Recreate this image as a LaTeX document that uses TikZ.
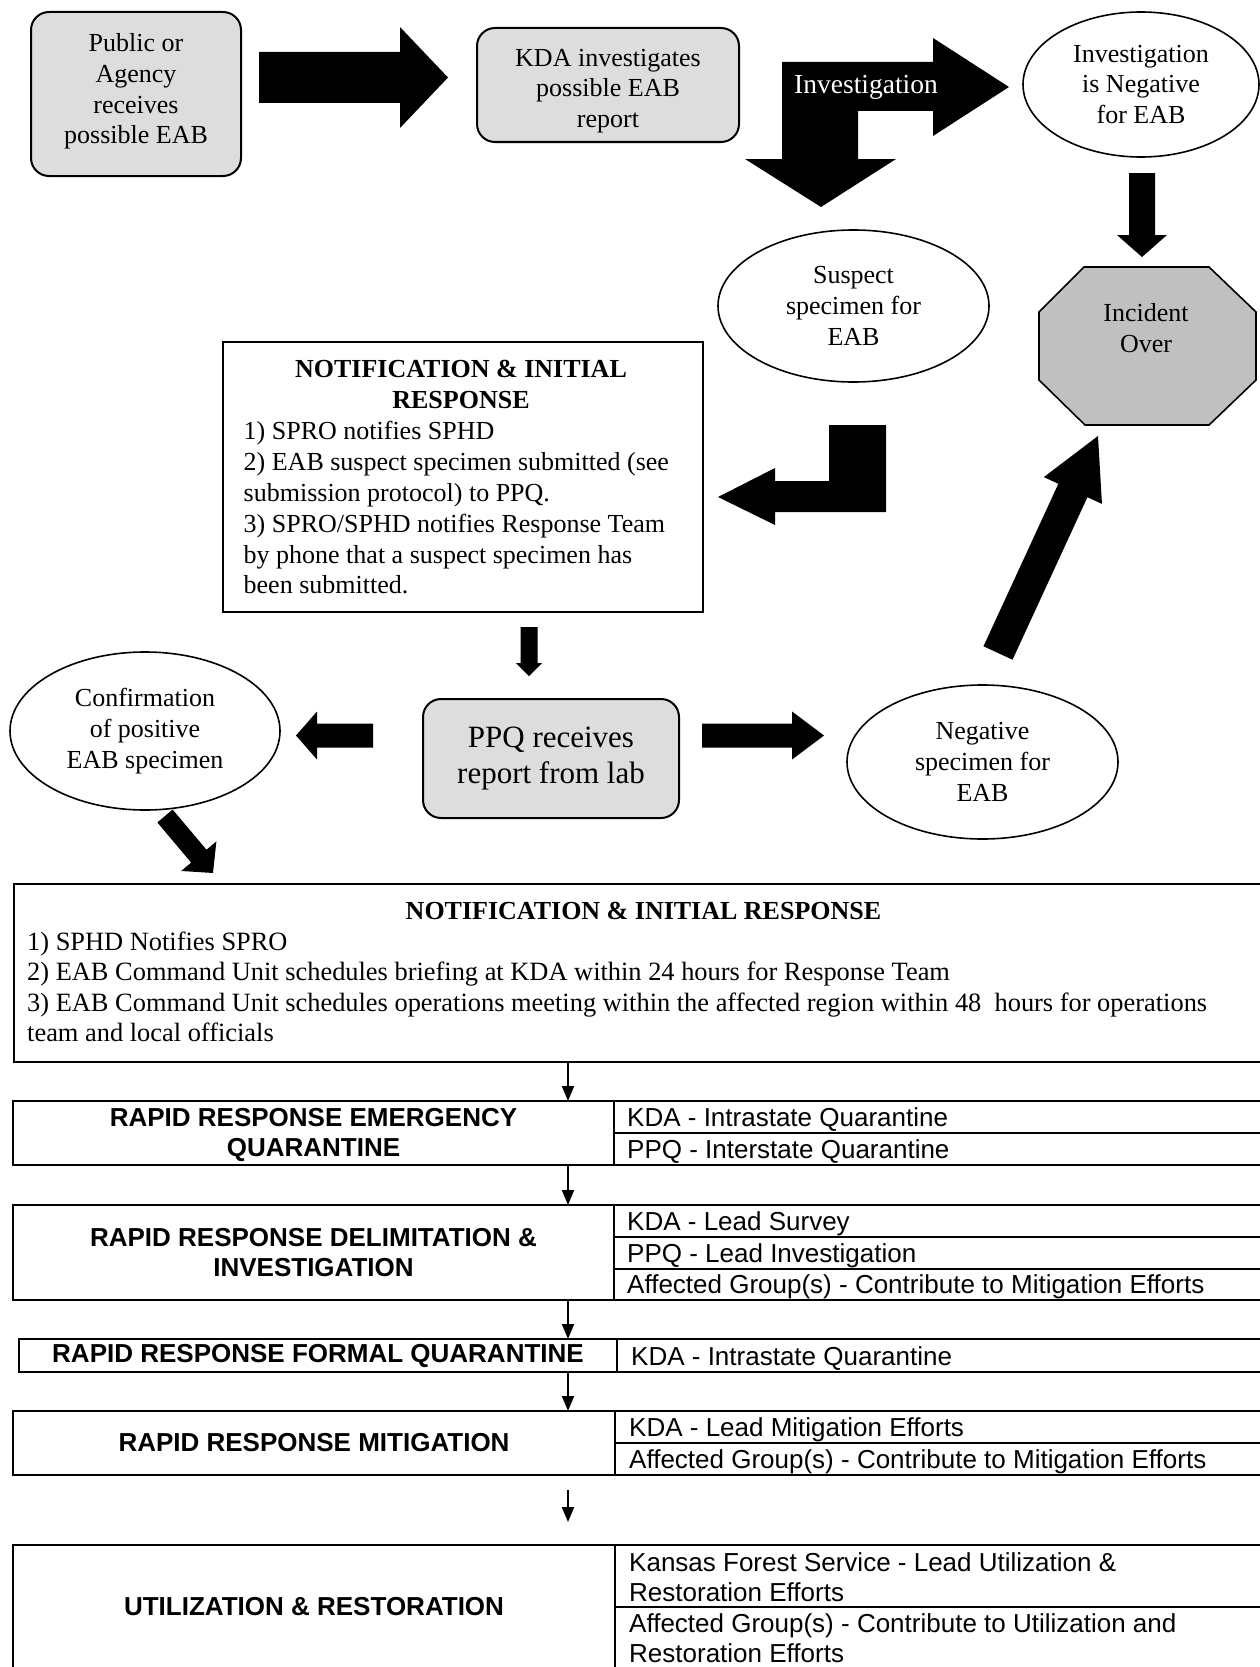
\documentclass[tikz,border=0pt]{standalone}
\usepackage{fontspec}
\setmainfont{Liberation Serif}
\newfontfamily\arialf{Liberation Sans}
\usetikzlibrary{shapes.geometric,arrows.meta,calc}
\definecolor{boxgray}{HTML}{DDDDDD}
\definecolor{octgray}{HTML}{C0C0C0}
% block arrow: from, to, body half width, head half width, head length
\newcommand\blockarrow[5]{%
  \fill let \p1=(#1), \p2=(#2), \n1={atan2(\y2-\y1,\x2-\x1)}, \n2={veclen(\x2-\x1,\y2-\y1)} in
   [shift={(\p1)}, rotate=\n1]
   (0,#3) -- ({\n2-#5},#3) -- ({\n2-#5},#4) -- (\n2,0) -- ({\n2-#5},-#4) -- ({\n2-#5},-#3) -- (0,-#3) -- cycle;}
\begin{document}
\begin{tikzpicture}[x=1pt,y=-1pt,
  font=\fontsize{26}{30.8}\selectfont,
  rbox/.style={draw, line width=2pt, fill=boxgray, rounded corners=18pt, inner sep=0pt, align=center},
  ell/.style={ellipse, draw, line width=1.6pt, fill=white, inner sep=0pt, align=center},
  ctext/.style={align=center, inner sep=0pt},
  ln/.style={anchor=mid west, inner sep=0pt, yshift=-7pt},
  ln2/.style={anchor=mid west, inner sep=0pt, yshift=-7pt, font=\fontsize{26.4}{30.8}\selectfont},
  hd/.style={anchor=mid, inner sep=0pt, yshift=-7pt, font=\bfseries\fontsize{26}{30.8}\selectfont},
  lt/.style={font=\arialf\bfseries\fontsize{26}{30.5}\selectfont, align=center, inner sep=0pt},
  rt/.style={font=\arialf\fontsize{26}{30.5}\selectfont, anchor=mid west, inner sep=0pt, yshift=-7pt},
  tbl/.style={draw, line width=2.5pt},
  tarrow/.style={line width=2pt, -{Triangle[length=15pt,width=12pt]}}]
\useasboundingbox (0,0) rectangle (1260,1667);
\fill[white] (0,0) rectangle (1260,1667);

% ---------- top row ----------
\node[rbox, minimum width=210pt, minimum height=164pt] (pub) at (136,94) {};
\node[ctext] (pubtext) at (136,91.5) {Public or\\Agency\\receives\\possible EAB};
\node[rbox, minimum width=262pt, minimum height=114pt] (kda) at (608,85) {};
\node[ctext] (kdatext) at (608,91) {KDA investigates\\possible EAB\\report};
\node[ell, minimum width=236pt, minimum height=145pt] (inv) at (1141,84.5)
  {Investigation\\is Negative\\for EAB};

\coordinate (a1s) at (259,77.5);
\coordinate (a1e) at (448,77.5);
\blockarrow{a1s}{a1e}{25.5}{50.5}{48}

% bent arrow (Investigation)
\fill (782,62) -- (933,62) -- (933,38) -- (1009,87) -- (933,136) -- (933,111)
  -- (858,111) -- (858,159) -- (896,159) -- (821,207) -- (745,159) -- (782,159) -- cycle;
\node[text=white, font=\fontsize{27.5}{32}\selectfont, inner sep=0pt] (invlabel) at (866,87) {Investigation};

% Investigation negative -> incident over
\coordinate (a2s) at (1142,173);
\coordinate (a2e) at (1142,257);
\blockarrow{a2s}{a2e}{13}{25}{22}

% ---------- second row ----------
\node[ell, minimum width=271pt, minimum height=152pt] (susp) at (853.5,306)
  {Suspect\\specimen for\\EAB};

\filldraw[fill=octgray, line width=1.6pt] (1084,267) -- (1209,267) -- (1256,312) -- (1256,380)
  -- (1209,425) -- (1085,425) -- (1039,380) -- (1039,312) -- cycle;
\node[ctext] (incident) at (1146,328.5) {Incident\\Over};

% bent arrow from suspect to notification
\fill (829,425) -- (886,425) -- (886,512) -- (775,512) -- (775,525) -- (718,497)
  -- (775,468) -- (775,481) -- (829,481) -- cycle;

% notification box 1
\node[draw, line width=1.6pt, minimum width=480pt, minimum height=270pt, inner sep=0pt] (notif1) at (463,477) {};
\node[hd] (n1h1) at (461,368) {NOTIFICATION \& INITIAL};
\node[hd] (n1h2) at (461,399) {RESPONSE};
\node[ln] (n1l1) at (243.5,430.5) {1) SPRO notifies SPHD};
\node[ln] (n1l2) at (243.5,461.3) {2) EAB suspect specimen submitted (see};
\node[ln] (n1l3) at (243.5,492) {submission protocol) to PPQ.};
\node[ln] (n1l4) at (243.5,522.9) {3) SPRO/SPHD notifies Response Team};
\node[ln] (n1l5) at (243.5,553.7) {by phone that a suspect specimen has};
\node[ln] (n1l6) at (243.5,584.5) {been submitted.};

\coordinate (a3s) at (529,627);
\coordinate (a3e) at (529,676);
\blockarrow{a3s}{a3e}{8.5}{13}{13}

% ---------- third row ----------
\node[rbox, minimum width=256pt, minimum height=119pt, font=\fontsize{31}{36}\selectfont] (ppq) at (551,758.5)
  {PPQ receives\\report from lab};
\node[ell, minimum width=270pt, minimum height=158pt] (conf) at (145,731)
  {Confirmation\\of positive\\EAB specimen};
\node[ell, minimum width=271pt, minimum height=154pt] (neg) at (982.5,762)
  {Negative\\specimen for\\EAB};

\coordinate (a4s) at (373,735.5);
\coordinate (a4e) at (296,735.5);
\blockarrow{a4s}{a4e}{12}{24}{21}
\coordinate (a5s) at (702,735.5);
\coordinate (a5e) at (824,735.5);
\blockarrow{a5s}{a5e}{12}{24}{32}
\coordinate (a6s) at (998,653);
\coordinate (a6e) at (1098,436);
\blockarrow{a6s}{a6e}{16}{32}{60}
\coordinate (a7s) at (165,816);
\coordinate (a7e) at (213,873);
\blockarrow{a7s}{a7e}{10}{23}{22}

% ---------- notification box 2 ----------
\node[draw, line width=2pt, minimum width=1261pt, minimum height=178pt, inner sep=0pt, anchor=north west] (notif2) at (13,883) {};
\node[hd] (n2h) at (643.5,910) {NOTIFICATION \& INITIAL RESPONSE};
\node[ln2] (n2l1) at (27,941.5) {1) SPHD Notifies SPRO};
\node[ln2] (n2l2) at (27,971.5) {2) EAB Command Unit schedules briefing at KDA within 24 hours for Response Team};
\node[ln2] (n2l3) at (27,1002) {3) EAB Command Unit schedules operations meeting within the affected region within 48\ \ hours for operations};
\node[ln2] (n2l4) at (27,1032.5) {team and local officials};

% ---------- tables ----------
% table 1
\draw[tbl] (13,1101) rectangle (1274,1165);
\draw[line width=2pt] (614,1101) -- (614,1165) (614,1133) -- (1274,1133);
\node[lt] (t1l) at (313.5,1135) {RAPID RESPONSE EMERGENCY\\QUARANTINE};
\node[rt] (t1r1) at (627,1117) {KDA - Intrastate Quarantine};
\node[rt] (t1r2) at (627,1149) {PPQ - Interstate Quarantine};
% table 2
\draw[tbl] (13,1205) rectangle (1274,1300);
\draw[line width=2pt] (614,1205) -- (614,1300) (614,1237) -- (1274,1237) (614,1269) -- (1274,1269);
\node[lt] (t2l) at (313.5,1252.5) {RAPID RESPONSE DELIMITATION \&\\INVESTIGATION};
\node[rt] (t2r1) at (627,1221) {KDA - Lead Survey};
\node[rt] (t2r2) at (627,1253) {PPQ - Lead Investigation};
\node[rt] (t2r3) at (627,1284.5) {Affected Group(s) - Contribute to Mitigation Efforts};
% table 3
\draw[tbl, line width=2pt] (19,1339) rectangle (1274,1372);
\draw[line width=2pt] (617,1339) -- (617,1372);
\node[lt] (t3l) at (318,1356) {RAPID RESPONSE FORMAL QUARANTINE};
\node[rt] (t3r1) at (631,1356) {KDA - Intrastate Quarantine};
% table 4
\draw[tbl] (13,1411) rectangle (1274,1475);
\draw[line width=2pt] (615,1411) -- (615,1475) (615,1443) -- (1274,1443);
\node[lt] (t4l) at (314,1443) {RAPID RESPONSE MITIGATION};
\node[rt] (t4r1) at (629,1427) {KDA - Lead Mitigation Efforts};
\node[rt] (t4r2) at (629,1459) {Affected Group(s) - Contribute to Mitigation Efforts};
% table 5
\draw[tbl] (13,1545) rectangle (1274,1675);
\draw[line width=2pt] (615,1545) -- (615,1675) (615,1607) -- (1274,1607);
\node[lt] (t5l) at (314,1607) {UTILIZATION \& RESTORATION};
\node[rt] (t5r1) at (629,1562) {Kansas Forest Service - Lead Utilization \&};
\node[rt] (t5r2) at (629,1592) {Restoration Efforts};
\node[rt] (t5r3) at (629,1623) {Affected Group(s) - Contribute to Utilization and};
\node[rt] (t5r4) at (629,1653) {Restoration Efforts};

% thin arrows between tables
\coordinate (b0s) at (568,1061); \coordinate (b0e) at (568,1101);
\coordinate (b1s) at (568,1166); \coordinate (b1e) at (568,1205);
\coordinate (b2s) at (568,1301); \coordinate (b2e) at (568,1339);
\coordinate (b3s) at (568,1373); \coordinate (b3e) at (568,1411);
\coordinate (b4s) at (568,1490); \coordinate (b4e) at (568,1522);
\draw[tarrow] (b0s) -- (b0e);
\draw[tarrow] (b1s) -- (b1e);
\draw[tarrow] (b2s) -- (b2e);
\draw[tarrow] (b3s) -- (b3e);
\draw[tarrow] (b4s) -- (b4e);
\end{tikzpicture}
\end{document}
